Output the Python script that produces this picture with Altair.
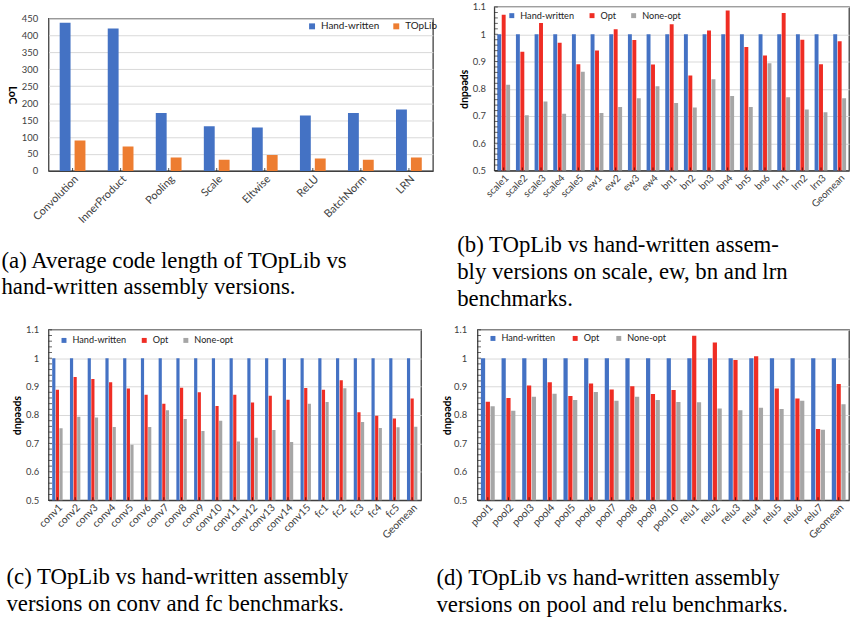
import altair as alt
import pandas as pd

SANS = "Lato"
SERIF = "Liberation Serif"

BLUE = "#4472C4"
ORANGE = "#ED7D31"
RED = "#EF2D24"
GRAY = "#A6A6A6"

# (a) average lines of code per operator type
loc_ops = ["Convolution", "InnerProduct", "Pooling", "Scale", "Eltwise", "ReLU", "BatchNorm", "LRN"]
loc_hand = [437, 420, 171, 132, 128, 164, 171, 181]
loc_toplib = [90, 72, 40, 33, 47, 37, 33, 40]
loc_ticks = [0, 50, 100, 150, 200, 250, 300, 350, 400, 450]

# (b) scale / eltwise / batchnorm / lrn speedups
b_cases = ["scale1", "scale2", "scale3", "scale4", "scale5", "ew1", "ew2", "ew3", "ew4",
           "bn1", "bn2", "bn3", "bn4", "bn5", "bn6", "lrn1", "lrn2", "lrn3", "Geomean"]
b_hand = [1.0, 1.0, 1.0, 1.0, 1.0, 1.0, 1.0, 1.0, 1.0, 1.0,
          1.0, 1.0, 1.0, 1.0, 1.0, 1.0, 1.0, 1.0, 1.0]
b_opt = [1.072, 0.936, 1.041, 0.969, 0.890, 0.940, 1.018, 0.979, 0.889, 1.037,
         0.849, 1.014, 1.087, 0.953, 0.922, 1.078, 0.980, 0.890, 0.974]
b_none = [0.815, 0.703, 0.753, 0.708, 0.862, 0.711, 0.733, 0.765, 0.809, 0.748,
          0.731, 0.835, 0.773, 0.733, 0.894, 0.769, 0.724, 0.714, 0.765]

# (c) conv / fc speedups
c_cases = ["conv1", "conv2", "conv3", "conv4", "conv5", "conv6", "conv7", "conv8",
           "conv9", "conv10", "conv11", "conv12", "conv13", "conv14", "conv15",
           "fc1", "fc2", "fc3", "fc4", "fc5", "Geomean"]
c_hand = [1.0, 1.0, 1.0, 1.0, 1.0, 1.0, 1.0, 1.0, 1.0, 1.0, 1.0,
          1.0, 1.0, 1.0, 1.0, 1.0, 1.0, 1.0, 1.0, 1.0, 1.0]
c_opt = [0.889, 0.934, 0.927, 0.915, 0.893, 0.871, 0.840, 0.896, 0.880, 0.832, 0.871,
         0.844, 0.868, 0.854, 0.895, 0.889, 0.922, 0.810, 0.797, 0.788, 0.858]
c_none = [0.753, 0.794, 0.791, 0.758, 0.695, 0.758, 0.817, 0.786, 0.744, 0.780, 0.707,
          0.720, 0.747, 0.705, 0.840, 0.846, 0.894, 0.775, 0.754, 0.757, 0.759]

# (d) pool / relu speedups
d_cases = ["pool1", "pool2", "pool3", "pool4", "pool5", "pool6", "pool7", "pool8", "pool9",
           "pool10", "relu1", "relu2", "relu3", "relu4", "relu5", "relu6", "relu7", "Geomean"]
d_hand = [1.0, 1.0, 1.0, 1.0, 1.0, 1.0, 1.0, 1.0, 1.0,
          1.0, 1.0, 1.0, 1.0, 1.0, 1.0, 1.0, 1.0, 1.0]
d_opt = [0.847, 0.860, 0.904, 0.915, 0.867, 0.911, 0.890, 0.901, 0.874,
         0.888, 1.079, 1.055, 0.994, 1.007, 0.893, 0.858, 0.751, 0.909]
d_none = [0.831, 0.815, 0.864, 0.875, 0.853, 0.881, 0.850, 0.864, 0.853,
          0.846, 0.845, 0.823, 0.817, 0.826, 0.821, 0.850, 0.748, 0.838]

speed_ticks = [0.5, 0.6, 0.7, 0.8, 0.9, 1.0, 1.1]
speed_minor = [0.50, 0.52, 0.54, 0.56, 0.58, 0.60, 0.62, 0.64, 0.66, 0.68, 0.70,
               0.72, 0.74, 0.76, 0.78, 0.80, 0.82, 0.84, 0.86, 0.88, 0.90,
               0.92, 0.94, 0.96, 0.98, 1.00, 1.02, 1.04, 1.06, 1.08, 1.10]

cap_a = ["(a) Average code length of TOpLib vs", "hand-written assembly versions."]
cap_b = ["(b) TOpLib vs hand-written assem-", "bly versions on scale, ew, bn and lrn", "benchmarks."]
cap_c = ["(c) TOpLib vs hand-written assembly", "versions on conv and fc benchmarks."]
cap_d = ["(d) TOpLib vs hand-written assembly", "versions on pool and relu benchmarks."]


def long_table(cases, names, columns):
    return pd.DataFrame([{"case": c, "series": n, "value": v}
                         for n, vals in zip(names, columns)
                         for c, v in zip(cases, vals)])


def bar_panel(cases, names, columns, colors, *, width, height, domain, ticks, minor, fmt,
              ytitle, ytitle_x, group_frac, bar_gap, legend_xy, legend_gap, legend_font,
              symbol_size, caption, caption_xy, ylabel_pad, xlabel_size):
    data = long_table(cases, names, columns)
    pin = 1 - group_frac
    x_enc = alt.X(
        "case:N", sort=cases,
        scale=alt.Scale(paddingInner=pin, paddingOuter=pin / 2),
        axis=alt.Axis(
            title=caption, titleX=caption_xy[0], titleY=caption_xy[1],
            titleAlign="left", titleBaseline="top", titleAnchor="start",
            titleFont=SERIF, titleFontSize=23, titleFontWeight="normal",
            titleLineHeight=27, titleColor="#000",
            labelAngle=-45, labelFont=SANS, labelFontSize=xlabel_size,
            labelColor="#404040", labelPadding=2, ticks=False,
            domainColor="#404040", domainWidth=1.3,
        ),
    )
    y_enc = alt.Y(
        "value:Q",
        scale=alt.Scale(domain=domain, nice=False, zero=False),
        axis=alt.Axis(
            values=ticks, format=fmt, title=ytitle, titleAngle=90,
            titleX=ytitle_x, titleY=height / 2, titleAlign="center",
            titleBaseline="middle", titleFont=SANS, titleFontSize=10.5,
            titleFontWeight="bold", titleColor="#000",
            labelFont=SANS, labelFontSize=9.5, labelColor="#404040",
            labelPadding=ylabel_pad, ticks=False, domain=False,
            grid=True, gridColor="#D9D9D9", gridWidth=1,
        ),
    )
    bars = alt.Chart(data).mark_bar(clip=True).encode(
        x=x_enc,
        xOffset=alt.XOffset("series:N", sort=names,
                            scale=alt.Scale(paddingInner=bar_gap, paddingOuter=0)),
        y=y_enc,
        color=alt.Color(
            "series:N",
            scale=alt.Scale(domain=names, range=colors),
            legend=alt.Legend(
                orient="none", legendX=legend_xy[0], legendY=legend_xy[1],
                direction="horizontal", title=None, symbolType="square",
                symbolSize=symbol_size, symbolStrokeWidth=0, labelFont=SANS,
                labelFontSize=legend_font, labelColor="#222", columnPadding=legend_gap,
                labelOffset=4, padding=0,
            ),
        ),
    )
    cat_ticks = alt.Chart(pd.DataFrame({"case": cases})).mark_tick(
        orient="vertical", size=3, thickness=1, color="#111"
    ).encode(x=x_enc, y=alt.value(height - 1.5))
    layers = [bars, cat_ticks]
    if minor is not None:
        minor_ticks = alt.Chart(pd.DataFrame({"value": minor})).mark_tick(
            orient="horizontal", size=3.5, thickness=1, color="#222"
        ).encode(x=alt.value(1.75), y=y_enc)
        layers.append(minor_ticks)
    return alt.layer(*layers).properties(width=width, height=height)


panel_a = bar_panel(
    loc_ops, ["Hand-written", "TOpLib"], [loc_hand, loc_toplib], [BLUE, ORANGE],
    width=388, height=154, domain=[0, 450], ticks=loc_ticks, minor=None, fmt="d",
    ytitle="LoC", ytitle_x=-37, group_frac=26 / 48.5, bar_gap=0.27, legend_xy=(261, 3),
    legend_gap=12, legend_font=10, symbol_size=36, caption=cap_a, caption_xy=(-48, 79),
    ylabel_pad=11, xlabel_size=11,
)
panel_b = bar_panel(
    b_cases, ["Hand-written", "Opt", "None-opt"], [b_hand, b_opt, b_none], [BLUE, RED, GRAY],
    width=358, height=165, domain=[0.5, 1.1], ticks=speed_ticks, minor=speed_minor, fmt="~g",
    ytitle="speedup", ytitle_x=-30, group_frac=13 / 18.9, bar_gap=0.12, legend_xy=(13, 4),
    legend_gap=13, legend_font=9.2, symbol_size=25, caption=cap_b, caption_xy=(-38, 64),
    ylabel_pad=9, xlabel_size=10,
)
panel_c = bar_panel(
    c_cases, ["Hand-written", "Opt", "None-opt"], [c_hand, c_opt, c_none], [BLUE, RED, GRAY],
    width=376, height=172, domain=[0.5, 1.1], ticks=speed_ticks, minor=speed_minor, fmt="~g",
    ytitle="speedup", ytitle_x=-31, group_frac=10.5 / 17.9, bar_gap=0.12, legend_xy=(11, 6),
    legend_gap=13, legend_font=9.2, symbol_size=25, caption=cap_c, caption_xy=(-43, 66),
    ylabel_pad=10, xlabel_size=10.5,
)
panel_d = bar_panel(
    d_cases, ["Hand-written", "Opt", "None-opt"], [d_hand, d_opt, d_none], [BLUE, RED, GRAY],
    width=375, height=172, domain=[0.5, 1.1], ticks=speed_ticks, minor=speed_minor, fmt="~g",
    ytitle="speedup", ytitle_x=-30, group_frac=14 / 20.9, bar_gap=0.12, legend_xy=(11, 4),
    legend_gap=15, legend_font=9.2, symbol_size=25, caption=cap_d, caption_xy=(-42, 67),
    ylabel_pad=11, xlabel_size=10.5,
)

top_row = alt.hconcat(panel_a, panel_b, spacing=17, center=True).resolve_scale(
    color="independent", x="independent", y="independent", xOffset="independent")
bottom_row = alt.hconcat(panel_c, panel_d, spacing=13).resolve_scale(
    color="independent", x="independent", y="independent", xOffset="independent")

chart = (
    alt.vconcat(top_row, bottom_row, spacing=13)
    .resolve_scale(color="independent", x="independent", y="independent", xOffset="independent")
    .properties(padding={"left": 0, "top": -2, "right": 0, "bottom": 0}, background="white")
    .configure_view(stroke="#404040", strokeWidth=1.3)
)

chart.save("out.html", embed_options={"renderer": "svg", "actions": False})
